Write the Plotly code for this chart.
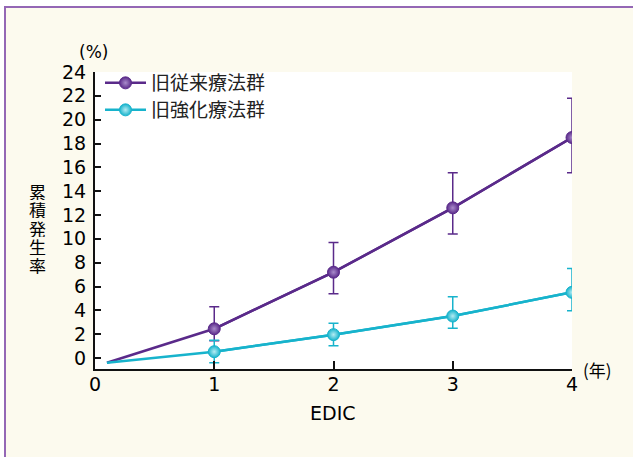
import plotly.graph_objects as go

# ---- data ----
years = [1, 2, 3, 4]
origin_x = 0.1
origin_y = -0.4
conv_vals = [2.45, 7.2, 12.6, 18.5]
conv_err_plus = [1.85, 2.5, 2.95, 3.3]
conv_err_minus = [1.0, 1.8, 2.2, 2.95]
int_vals = [0.53, 1.96, 3.52, 5.51]
int_err_plus = [0.95, 0.95, 1.62, 2.0]
int_err_minus = [0.93, 0.93, 1.03, 1.55]
series_names = ["旧従来療法群", "旧強化療法群"]
y_ticks = list(range(0, 25, 2))
x_ticks = [0, 1, 2, 3, 4]

PURPLE = "#5A2A8A"
PURPLE_LIGHT = "#A98BCB"
CYAN = "#17B3CC"
CYAN_LIGHT = "#B5ECF3"
CREAM = "#FCFAEE"
FRAME = "#9467B5"
NUM_FONT = "DejaVu Sans, sans-serif"
JP_FONT = "Noto Sans CJK JP, sans-serif"

W, H = 633, 457
L, R, T, B = 95, 61, 72, 88
PW, PH = W - L - R, H - T - B


def px(x):
    return (x - L) / PW


def py(y):
    return (H - B - y) / PH


fig = go.Figure()

for name, vals, ep, em, col, light, leg in [
    (series_names[0], conv_vals, conv_err_plus, conv_err_minus, PURPLE, PURPLE_LIGHT, "legend"),
    (series_names[1], int_vals, int_err_plus, int_err_minus, CYAN, CYAN_LIGHT, "legend2"),
]:
    fig.add_trace(go.Scatter(
        x=[origin_x] + years, y=[origin_y] + vals, mode="lines",
        line=dict(color=col, width=2.5), showlegend=False, hoverinfo="skip"))
    fig.add_trace(go.Scatter(
        x=years, y=vals, mode="lines+markers", name=name, legend=leg,
        line=dict(color=col, width=2.5),
        marker=dict(size=12, color=col, line=dict(color=col, width=1),
                    gradient=dict(type="radial", color=light)),
        error_y=dict(type="data", symmetric=False, array=ep, arrayminus=em,
                     color=col, thickness=1.5, width=5)))


def note(x, y, text, size, family, **kw):
    fig.add_annotation(x=px(x), y=py(y), xref="paper", yref="paper", text=text,
                       xanchor="center", yanchor="middle", showarrow=False,
                       font=dict(size=size, color="#000", family=family), **kw)


# Y-axis title stacked vertically, one character per annotation
ytitle = "累積発生率"
for i, ch in enumerate(ytitle):
    note(37.5, 190.5 + i * 18.5, ch, 17, JP_FONT, height=18)

note(93, 52, "(%)", 17, NUM_FONT)
note(597, 369, "(年)", 17, JP_FONT)
note(333, 413, "EDIC", 19, NUM_FONT)

leg_common = dict(xanchor="left", yanchor="top", bgcolor="rgba(0,0,0,0)", borderwidth=0,
                  itemwidth=41, font=dict(size=19, color="#222", family=JP_FONT))

fig.update_layout(
    width=W, height=H,
    margin=dict(l=L, r=R, t=T, b=B, pad=0),
    paper_bgcolor="white", plot_bgcolor="white",
    shapes=[
        dict(type="rect", xref="paper", yref="paper", layer="below",
             x0=px(5), x1=px(660), y0=py(7), y1=py(480),
             fillcolor=CREAM, line=dict(color=FRAME, width=2)),
        dict(type="rect", xref="paper", yref="paper", layer="below",
             x0=0, x1=1, y0=0, y1=1, fillcolor="white", line=dict(width=0)),
    ],
    xaxis=dict(range=[0, 4], tickvals=x_ticks, ticktext=[str(v) for v in x_ticks],
               ticks="inside", ticklen=8, tickwidth=2, tickcolor="#111",
               showline=True, linecolor="#111", linewidth=2, showgrid=False, zeroline=False,
               ticklabelstandoff=-3,
               tickfont=dict(size=19, color="#000", family=NUM_FONT)),
    yaxis=dict(range=[-0.923, 24], tickvals=y_ticks, ticks="inside", ticklen=6,
               tickwidth=2, tickcolor="#111",
               showline=True, linecolor="#111", linewidth=2, showgrid=False, zeroline=False,
               ticklabelstandoff=3,
               tickfont=dict(size=19, color="#000", family=NUM_FONT)),
    legend=dict(x=px(100), y=py(64), **leg_common),
    legend2=dict(x=px(100), y=py(91), **leg_common),
    showlegend=True,
)

fig.write_html("out.html", config={"displayModeBar": False},
               post_script="document.body.style.margin='0';")
